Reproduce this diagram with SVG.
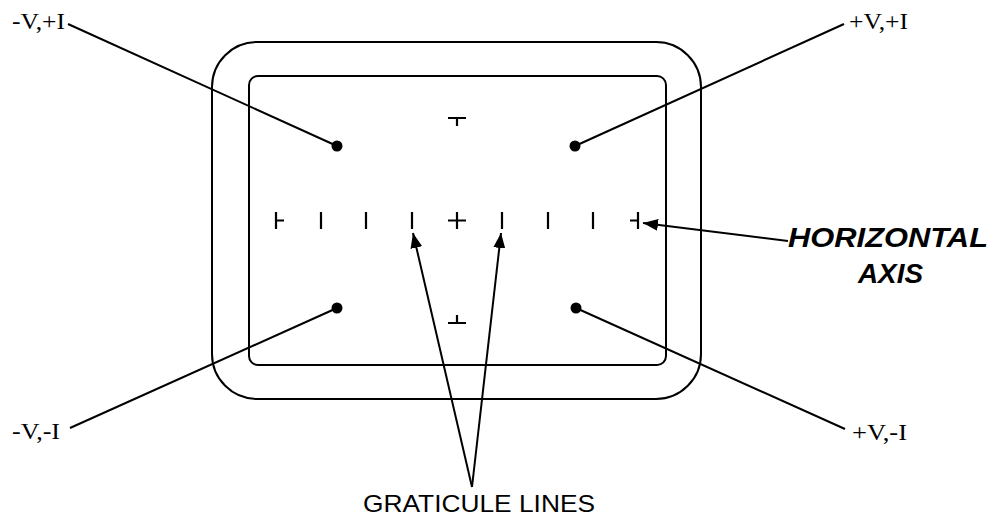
<svg xmlns="http://www.w3.org/2000/svg" width="997" height="516" viewBox="0 0 997 516">
<style>
.ln{stroke:#000;stroke-width:2;fill:none}
.tk{stroke:#000;stroke-width:2.2;fill:none}
.lbl{font-family:"Liberation Serif","Times New Roman",serif;font-size:24px;fill:#000}
.big{font-family:"Liberation Sans",Arial,sans-serif;font-weight:bold;font-style:italic;font-size:27px;fill:#000}
.cap{font-family:"Liberation Sans",Arial,sans-serif;font-size:24px;fill:#000}
</style>
<defs>
<marker id="ah" markerWidth="16" markerHeight="12" refX="15" refY="6" orient="auto" markerUnits="userSpaceOnUse">
<path d="M0,0 L15,6 L0,12 Z" fill="#000"/>
</marker>
</defs>
<g id="screen">
<rect x="212" y="42" width="489" height="357" rx="45" ry="45" class="ln"/>
<rect x="249" y="76" width="417" height="289" rx="9" ry="9" class="ln"/>
</g>
<g id="graticule">
<path class="tk" d="M276,212V229M276,220.5H284M321,212V229M366,212V229M412,212V229M448,220.5H466M457,212V229M502,212V229M548,212V229M593,212V229M638,212V229M630,220.5H638"/>
<path class="tk" d="M448,118H466M457,118V126M448,323H466M457,315V323"/>
</g>
<g id="dots">
<circle cx="337" cy="146" r="5.5"/>
<circle cx="575" cy="146" r="5.5"/>
<circle cx="337" cy="308" r="5.5"/>
<circle cx="576" cy="308" r="5.5"/>
</g>
<g id="connectors">
<line class="ln" x1="68" y1="24" x2="337" y2="146"/>
<line class="ln" x1="844" y1="24" x2="575" y2="146"/>
<line class="ln" x1="70" y1="428" x2="337" y2="308"/>
<line class="ln" x1="845" y1="429" x2="576" y2="308"/>
<line class="ln" x1="788" y1="241" x2="643" y2="223" marker-end="url(#ah)"/>
<line class="ln" x1="472" y1="487" x2="413" y2="233" marker-end="url(#ah)"/>
<line class="ln" x1="472" y1="487" x2="501" y2="233" marker-end="url(#ah)"/>
</g>
<g id="label-nvpi"><text class="lbl" x="12" y="29" textLength="53" lengthAdjust="spacingAndGlyphs">-V,+I</text></g>
<g id="label-pvpi"><text class="lbl" x="849" y="29" textLength="59" lengthAdjust="spacingAndGlyphs">+V,+I</text></g>
<g id="label-nvni"><text class="lbl" x="12" y="439" textLength="48" lengthAdjust="spacingAndGlyphs">-V,-I</text></g>
<g id="label-pvni"><text class="lbl" x="852" y="440" textLength="55" lengthAdjust="spacingAndGlyphs">+V,-I</text></g>
<g id="label-axis">
<text class="big" x="788" y="247" textLength="200" lengthAdjust="spacingAndGlyphs">HORIZONTAL</text>
<text class="big" x="858" y="283" textLength="65" lengthAdjust="spacingAndGlyphs">AXIS</text>
</g>
<g id="label-graticule"><text class="cap" x="363" y="512" textLength="232" lengthAdjust="spacingAndGlyphs">GRATICULE LINES</text></g>
</svg>
